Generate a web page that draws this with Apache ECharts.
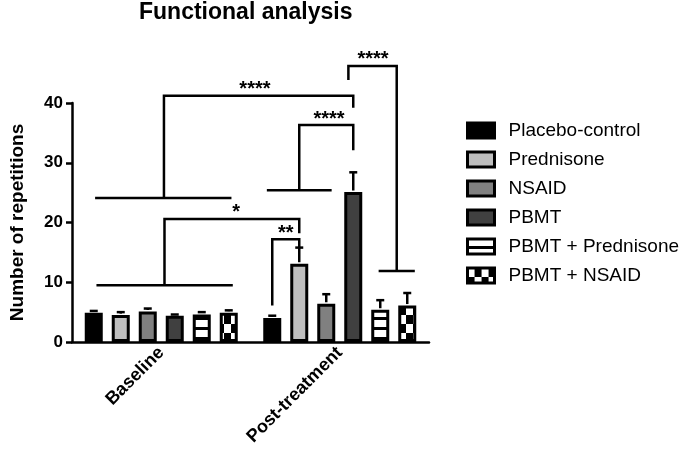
<!DOCTYPE html>
<html><head><meta charset="utf-8">
<script src="https://cdn.jsdelivr.net/npm/echarts@6/dist/echarts.min.js"></script>
<style>html,body{margin:0;padding:0;background:#fff}#c{width:680px;height:457px}</style>
</head><body><div id="c"></div>
<script>
// ---- data ----
const categories = ['Baseline', 'Post-treatment'];
const groupNames = ['Placebo-control', 'Prednisone', 'NSAID', 'PBMT', 'PBMT + Prednisone', 'PBMT + NSAID'];
const placeboMean   = [4.9, 4.0];
const placeboSD     = [0.3, 0.4];
const prednisoneMean = [4.5, 13.1];
const prednisoneSD   = [0.5, 2.7];
const nsaidMean     = [5.1, 6.4];
const nsaidSD       = [0.5, 1.6];
const pbmtMean      = [4.4, 25.1];
const pbmtSD        = [0.2, 3.3];
const pbmtPredMean  = [4.6, 5.4];
const pbmtPredSD    = [0.4, 1.6];
const pbmtNsaidMean = [4.9, 6.1];
const pbmtNsaidSD   = [0.4, 2.1];
const yMin = 0, yMax = 40, yInterval = 10;
// significance brackets: points are [categoryIndex, barPosition, value]
const brackets = [
  { label: '*',    labelAt: [0, 5.27, 20.6],
    lines: [[[0, 0.1, 9.5], [0, 5.15, 9.5]],
            [[0, 2.62, 9.5], [0, 2.62, 20.6], [1, 1.0, 20.6], [1, 1.0, 18.2]]] },
  { label: '****', labelAt: [0, 5.97, 41.2],
    lines: [[[0, 0.05, 24.1], [0, 5.1, 24.1]],
            [[0, 2.6, 24.1], [0, 2.6, 41.2], [1, 3.0, 41.2], [1, 3.0, 39.2]]] },
  { label: '****', labelAt: [1, 2.1, 36.3],
    lines: [[[1, -0.2, 25.4], [1, 2.2, 25.4]],
            [[1, 1.0, 25.4], [1, 1.0, 36.3], [1, 3.0, 36.3], [1, 3.0, 32.1]]] },
  { label: '**',   labelAt: [1, 0.5, 17.2],
    lines: [[[1, 0, 6.1], [1, 0, 17.2], [1, 1, 17.2], [1, 1, 15.9]]] },
  { label: '****', labelAt: [1, 3.73, 46.2],
    lines: [[[1, 3.94, 11.9], [1, 5.28, 11.9]],
            [[1, 4.61, 11.9], [1, 4.61, 46.2], [1, 2.82, 46.2], [1, 2.82, 43.85]]] }
];

const means = [placeboMean, prednisoneMean, nsaidMean, pbmtMean, pbmtPredMean, pbmtNsaidMean];
const sds = [placeboSD, prednisoneSD, nsaidSD, pbmtSD, pbmtPredSD, pbmtNsaidSD];

// ---- styles ----
const FONT = '"Liberation Sans", Arial, Helvetica, sans-serif';
const BAR_W = 18, STEP = 27, LW = 2.5;
function stripes() {
  const c = document.createElement('canvas'); c.width = 10; c.height = 10;
  const g = c.getContext('2d'); g.fillStyle = '#fff'; g.fillRect(0, 0, 10, 10);
  g.fillStyle = '#000'; g.fillRect(0, 7, 10, 3); return c;
}
function checker() {
  const c = document.createElement('canvas'); c.width = 14; c.height = 18;
  const g = c.getContext('2d'); g.fillStyle = '#fff'; g.fillRect(0, 0, 14, 18);
  g.fillStyle = '#000'; g.fillRect(7, 0, 7, 9); g.fillRect(0, 9, 7, 9); return c;
}
const fills = ['#000000', '#bfbfbf', '#808080', '#404040',
  { image: stripes(), repeat: 'repeat' }, { image: checker(), repeat: 'repeat' }];

const chart = echarts.init(document.getElementById('c'), null, { renderer: 'canvas' });
chart.setOption({
  animation: false,
  backgroundColor: '#fff',
  title: { text: 'Functional analysis', left: 139, top: 1, padding: 0,
    textStyle: { fontFamily: FONT, fontWeight: 'bold', fontSize: 23, color: '#000' } },
  legend: { orient: 'vertical', left: 461, top: 116, itemWidth: 27, itemHeight: 15, itemGap: 10,
    icon: 'rect',
    data: groupNames,
    itemStyle: { borderColor: '#000', borderWidth: 3 },
    textStyle: { fontFamily: FONT, fontSize: 19, color: '#000', padding: [0, 0, 0, 9] } },
  grid: { left: 68, right: 251, top: 103, bottom: 115, containLabel: false },
  xAxis: { type: 'category', data: categories,
    axisLine: { lineStyle: { color: '#000', width: LW } },
    axisTick: { alignWithLabel: true, length: 6, lineStyle: { color: '#000', width: LW } },
    axisLabel: { rotate: 45, interval: 0, margin: 8, fontFamily: FONT, fontWeight: 'bold', fontSize: 18, color: '#000' } },
  yAxis: { type: 'value', min: yMin, max: yMax, interval: yInterval,
    name: 'Number of repetitions', nameLocation: 'middle', nameGap: 45,
    nameTextStyle: { fontFamily: FONT, fontWeight: 'bold', fontSize: 19, color: '#000' },
    axisLine: { show: true, lineStyle: { color: '#000', width: LW } },
    axisTick: { show: true, length: 6, lineStyle: { color: '#000', width: LW } },
    splitLine: { show: false },
    axisLabel: { margin: 9, fontFamily: FONT, fontWeight: 'bold', fontSize: 17, color: '#000' } },
  series: means.map((m, i) => ({
    type: 'bar', name: groupNames[i], data: m, barWidth: BAR_W, barGap: '50%',
    itemStyle: { color: fills[i], borderColor: '#000', borderWidth: 3 },
    emphasis: { disabled: true }
  }))
});

function px(cat, pos, val) {
  const p = chart.convertToPixel({ xAxisIndex: 0, yAxisIndex: 0 }, [cat, val]);
  return [p[0] + (pos - 2.5) * STEP, p[1]];
}
const graphics = [];
// error bars
means.forEach((m, i) => {
  m.forEach((v, c) => {
    const a = px(c, i, v), b = px(c, i, v + sds[i][c]);
    graphics.push({ type: 'line', shape: { x1: a[0], y1: a[1] - 1.5, x2: b[0], y2: b[1] }, style: { stroke: '#000', lineWidth: LW }, z: 10 });
    graphics.push({ type: 'line', shape: { x1: b[0] - 4, y1: b[1], x2: b[0] + 4, y2: b[1] }, style: { stroke: '#000', lineWidth: LW }, z: 10 });
  });
});
// brackets
brackets.forEach(br => {
  br.lines.forEach(pts => {
    graphics.push({ type: 'polyline', shape: { points: pts.map(p => px(p[0], p[1], p[2])) },
      style: { stroke: '#000', lineWidth: LW, fill: null }, z: 10 });
  });
  const l = px(br.labelAt[0], br.labelAt[1], br.labelAt[2]);
  graphics.push({ type: 'text', x: l[0], y: l[1] + 4, z: 10,
    style: { text: br.label, fill: '#000', font: 'bold 20px ' + FONT, textAlign: 'center', textVerticalAlign: 'bottom' } });
});
chart.setOption({ graphic: graphics });
</script></body></html>
